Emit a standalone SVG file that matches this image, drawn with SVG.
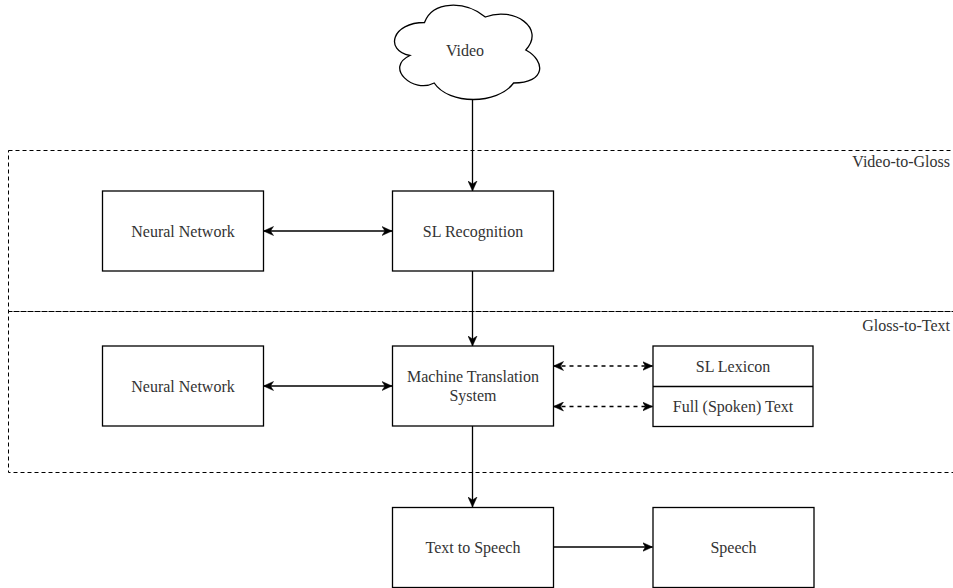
<svg xmlns="http://www.w3.org/2000/svg" width="953" height="588" viewBox="0 0 953 588">
  <style>
    .box { fill: #ffffff; stroke: #000000; stroke-width: 1.3; }
    .lbl { font-family: "Liberation Serif", "Times New Roman", serif; font-size: 16px; fill: #333333; text-anchor: middle; }
    .grp { font-family: "Liberation Serif", "Times New Roman", serif; font-size: 16px; fill: #333333; text-anchor: end; }
    .cont { fill: none; stroke: #000000; stroke-width: 1; stroke-dasharray: 4 3; }
    .edge { fill: none; stroke: #000000; stroke-width: 1.3; }
    .dedge { fill: none; stroke: #000000; stroke-width: 1.3; stroke-dasharray: 4 4; }
  </style>
  <defs>
    <marker id="arr" viewBox="0 0 10 10" refX="10" refY="5" markerWidth="10" markerHeight="10" markerUnits="userSpaceOnUse" orient="auto-start-reverse">
      <path d="M0,0.5 L10,5 L0,9.5 L3,5 Z" fill="#000000" stroke="#000000" stroke-width="0.5"/>
    </marker>
  </defs>
  <rect width="953" height="588" fill="#ffffff"/>

  <g id="containers">
    <g id="video-to-gloss">
      <rect class="cont" x="8.5" y="150.5" width="960" height="161"/>
      <text class="grp" x="950" y="167">Video-to-Gloss</text>
    </g>
    <g id="gloss-to-text">
      <rect class="cont" x="8.5" y="311.5" width="960" height="161"/>
      <text class="grp" x="950" y="330.5">Gloss-to-Text</text>
    </g>
  </g>

  <g id="connectors">
    <line class="edge" x1="472.5" y1="100" x2="472.5" y2="191" marker-end="url(#arr)"/>
    <line class="edge" x1="263.5" y1="231" x2="392" y2="231" marker-start="url(#arr)" marker-end="url(#arr)"/>
    <line class="edge" x1="472.5" y1="271" x2="472.5" y2="346" marker-end="url(#arr)"/>
    <line class="edge" x1="263.5" y1="386" x2="392" y2="386" marker-start="url(#arr)" marker-end="url(#arr)"/>
    <line class="dedge" x1="553.5" y1="366" x2="652.5" y2="366" marker-start="url(#arr)" marker-end="url(#arr)"/>
    <line class="dedge" x1="553.5" y1="406.5" x2="652.5" y2="406.5" marker-start="url(#arr)" marker-end="url(#arr)"/>
    <line class="edge" x1="472.5" y1="426" x2="472.5" y2="507" marker-end="url(#arr)"/>
    <line class="edge" x1="553.5" y1="547" x2="652.5" y2="547" marker-end="url(#arr)"/>
  </g>

  <g id="video">
    <path class="box" d="M424.5,22.5 C392.1,22.5 384,50 409.9,55.5 C384,67.6 413.2,94 434.2,83 C448.8,105 497.4,105 513.6,83 C546,83 546,61 525.8,50 C546,28 513.6,6 485.3,17 C465,0.5 432.6,0.5 424.5,22.5 Z"/>
    <text class="lbl" x="465" y="56">Video</text>
  </g>

  <g id="nn1">
    <rect class="box" x="102.5" y="191" width="161" height="80"/>
    <text class="lbl" x="183" y="236.5">Neural Network</text>
  </g>

  <g id="sl-recognition">
    <rect class="box" x="392.5" y="191" width="161" height="80"/>
    <text class="lbl" x="473" y="236.5">SL Recognition</text>
  </g>

  <g id="nn2">
    <rect class="box" x="102.5" y="346" width="161" height="80"/>
    <text class="lbl" x="183" y="391.5">Neural Network</text>
  </g>

  <g id="mts">
    <rect class="box" x="392.5" y="346" width="161" height="80"/>
    <text class="lbl" x="473" y="382">Machine Translation</text>
    <text class="lbl" x="473" y="401">System</text>
  </g>

  <g id="lexicon">
    <rect class="box" x="653" y="346" width="160" height="80.5"/>
    <line class="edge" x1="653" y1="386.5" x2="813" y2="386.5"/>
    <text class="lbl" x="733" y="371.5">SL Lexicon</text>
    <text class="lbl" x="733" y="412">Full (Spoken) Text</text>
  </g>

  <g id="tts">
    <rect class="box" x="392.5" y="507.5" width="161" height="80"/>
    <text class="lbl" x="473" y="553">Text to Speech</text>
  </g>

  <g id="speech">
    <rect class="box" x="653" y="507.5" width="161" height="80"/>
    <text class="lbl" x="733.5" y="553">Speech</text>
  </g>
</svg>
